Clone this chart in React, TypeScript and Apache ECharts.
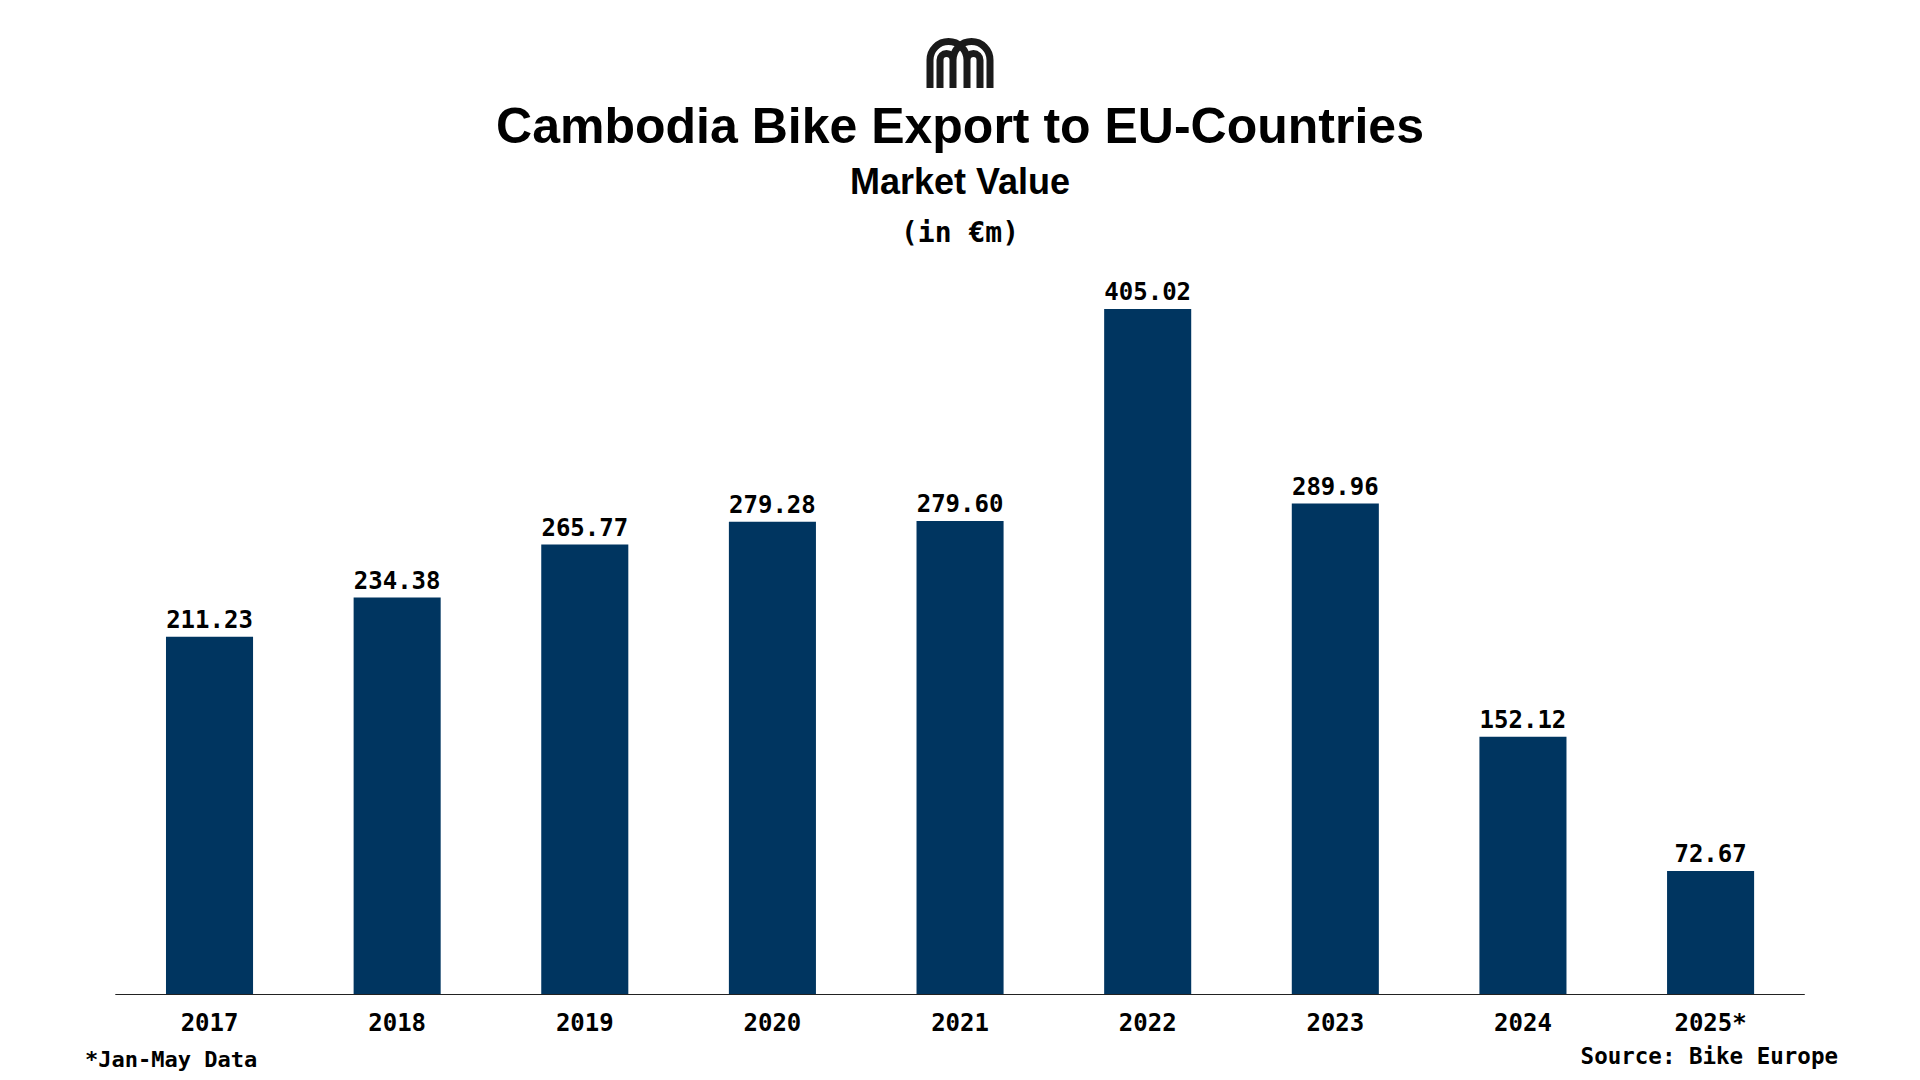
import React, { useEffect, useRef } from "react";
import * as echarts from "echarts";

const categories = ["2017", "2018", "2019", "2020", "2021", "2022", "2023", "2024", "2025*"];
const values = [211.23, 234.38, 265.77, 279.28, 279.6, 405.02, 289.96, 152.12, 72.67];

const titleText = "Cambodia Bike Export to EU-Countries";
const subtitleText = "Market Value";
const unitText = "(in €m)";
const noteText = "*Jan-May Data";
const sourceText = "Source: Bike Europe";

const LOGO_D =
  "M4 50 L4 22 A18.5 18.5 0 0 1 41 22 L41 50 " +
  "M14 50 L14 22 A6.5 6.5 0 0 1 27 22 L27 50 " +
  "M27 50 L27 22 A18.5 18.5 0 0 1 64 22 L64 50 " +
  "M41 50 L41 22 A6.5 6.5 0 0 1 54 22 L54 50";

let registered = false;

export default function App() {
  const ref = useRef<HTMLDivElement>(null);

  useEffect(() => {
    document.body.style.margin = "0";
    if (!registered) {
      echarts.graphic.registerShape("logo", echarts.graphic.extendPath(LOGO_D, {}));
      registered = true;
    }
    const chart = echarts.init(ref.current!, null, { renderer: "svg" });
    const mono = "'DejaVu Sans Mono', 'Liberation Mono', monospace";
    const sans = "'Liberation Sans', Arial, sans-serif";
    chart.setOption({
      animation: false,
      backgroundColor: "#ffffff",
      grid: { left: 115.7, right: 115.6, top: 309, bottom: 86, containLabel: false },
      xAxis: {
        type: "category",
        data: categories,
        axisLine: { show: true, lineStyle: { color: "#222", width: 1 } },
        axisTick: { show: false },
        axisLabel: {
          color: "#000",
          fontFamily: mono,
          fontWeight: "bold",
          fontSize: 24,
          margin: 17,
        },
      },
      yAxis: {
        type: "value",
        min: 0,
        max: "dataMax",
        show: false,
        splitLine: { show: false },
      },
      series: [
        {
          type: "bar",
          data: values,
          barWidth: "46.4%",
          itemStyle: { color: "#003560" },
          label: {
            show: true,
            position: "top",
            distance: 5,
            color: "#000",
            fontFamily: mono,
            fontWeight: "bold",
            fontSize: 24,
            formatter: (p: any) => Number(p.value).toFixed(2),
          },
        },
      ],
      graphic: [
        {
          type: "logo",
          x: 926,
          y: 38,
          style: { fill: "none", stroke: "#1a1a1a", lineWidth: 7, lineCap: "butt" },
        },
        {
          type: "text",
          x: 960,
          y: 126,
          style: {
            text: titleText,
            fill: "#000",
            font: `bold 50px ${sans}`,
            textAlign: "center",
            textVerticalAlign: "middle",
          },
        },
        {
          type: "text",
          x: 960,
          y: 181,
          style: {
            text: subtitleText,
            fill: "#000",
            font: `bold 36px ${sans}`,
            textAlign: "center",
            textVerticalAlign: "middle",
          },
        },
        {
          type: "text",
          x: 960,
          y: 232,
          style: {
            text: unitText,
            fill: "#000",
            font: `bold 28px ${mono}`,
            textAlign: "center",
            textVerticalAlign: "middle",
          },
        },
        {
          type: "text",
          x: 85,
          y: 1059,
          style: {
            text: noteText,
            fill: "#000",
            font: `bold 22px ${mono}`,
            textAlign: "left",
            textVerticalAlign: "middle",
          },
        },
        {
          type: "text",
          x: 1838,
          y: 1056,
          style: {
            text: sourceText,
            fill: "#000",
            font: `bold 22.5px ${mono}`,
            textAlign: "right",
            textVerticalAlign: "middle",
          },
        },
      ],
    });
    return () => chart.dispose();
  }, []);

  return <div ref={ref} style={{ width: 1920, height: 1080 }} />;
}
